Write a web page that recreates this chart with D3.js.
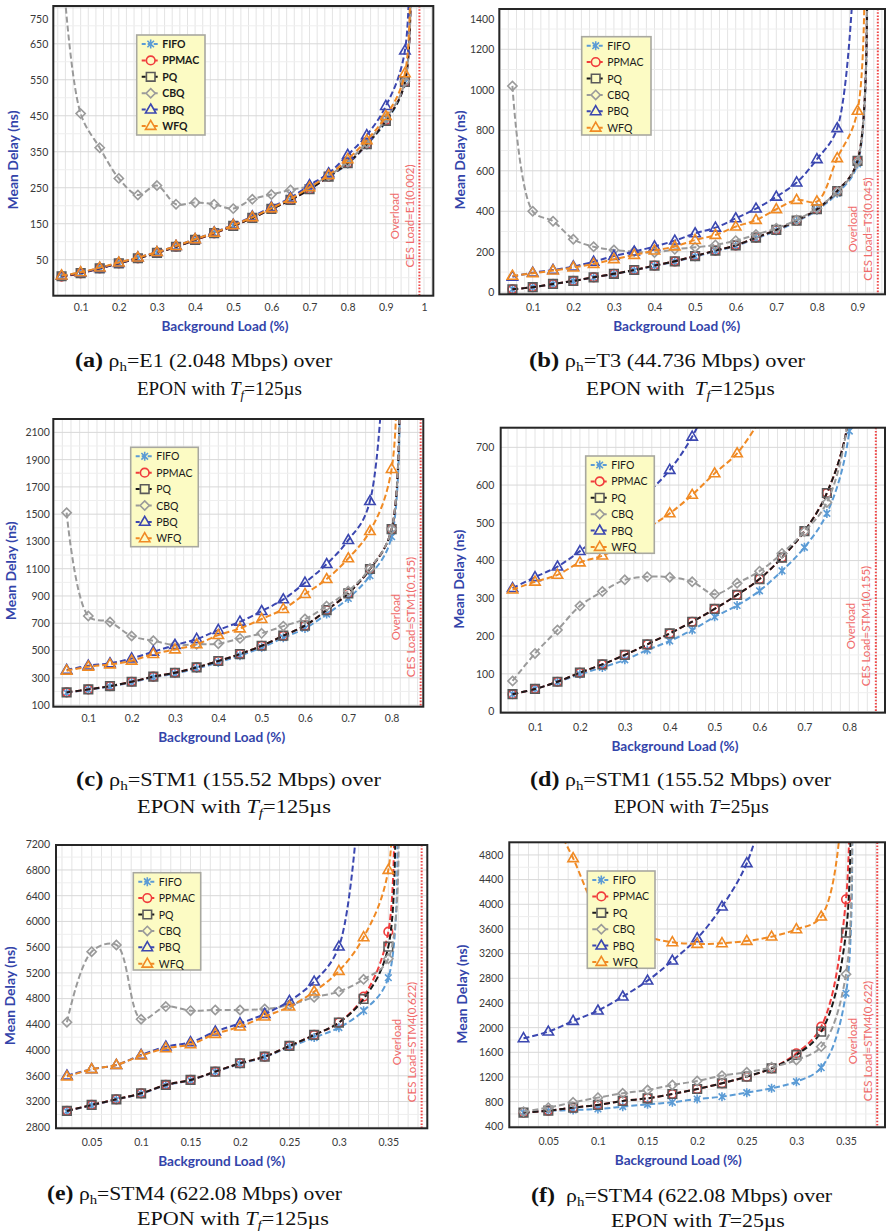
<!DOCTYPE html>
<html>
<head>
<meta charset="utf-8">
<script src="https://cdn.jsdelivr.net/npm/d3@7"></script>
<style>
  html, body { margin: 0; padding: 0; background: #fff; }
  svg { display: block; }
</style>
</head>
<body>
<svg id="fig" width="886" height="1231"></svg>
<script>
// ---------------- data ----------------
// Series order used everywhere: FIFO, PPMAC, PQ, CBQ, PBQ, WFQ
const seriesNames = ["FIFO", "PPMAC", "PQ", "CBQ", "PBQ", "WFQ"];

// (a) E1, Tf = 125 us  (last entry of each list is the overload tail)
const loadA  = [0.05,0.1,0.15,0.2,0.25,0.3,0.35,0.4,0.45,0.5,0.55,0.6,0.65,0.7,0.75,0.8,0.85,0.9,0.95,0.95];
const fifoA  = [3,12,26,40,54,69,86,105,123,144,166,191,216,245,280,316,369,434,542,1500];
const ppmacA = [3,12,26,40,54,69,86,105,123,144,166,191,216,246,281,318,371,438,544,1500];
const pqA    = [4,13,26,40,54,69,86,105,124,144,166,191,216,246,281,318,371,436,544,1500];
const cbqA   = [900,456,361,276,230,256,204,209,204,192,218,231,244,255,283,322,375,442,546,1500];
const pbqA   = [5,14,27,41,56,71,88,107,126,147,170,196,222,257,290,341,396,477,631,1500];
const wfqA   = [6,15,28,42,56,71,88,107,125,146,168,193,219,251,285,329,382,449,568,1500];

// (b) T3, Tf = 125 us
const loadB  = [0.05,0.1,0.15,0.2,0.25,0.3,0.35,0.4,0.45,0.5,0.55,0.6,0.65,0.7,0.75,0.8,0.85,0.9,0.9];
const fifoB  = [15,25,40,55,73,90,108,130,151,176,203,229,266,303,349,405,489,634,3500];
const ppmacB = [15,25,41,56,74,91,110,132,153,179,206,232,270,308,354,410,500,649,3500];
const pqB    = [15,25,41,56,74,91,110,132,153,179,206,232,270,308,354,410,500,649,3500];
const cbqB   = [1019,400,351,262,225,209,201,196,212,222,234,255,285,316,357,415,497,645,3500];
const pbqB   = [77,97,110,127,151,179,201,226,255,291,319,365,413,472,542,657,810,2000,null];
const wfqB   = [81,94,107,122,140,163,184,206,226,258,283,324,357,410,456,448,662,896,3500];

// (c) STM1, Tf = 125 us
const loadC  = [0.05,0.1,0.15,0.2,0.25,0.3,0.35,0.4,0.45,0.5,0.55,0.6,0.65,0.7,0.75,0.8,0.8];
const fifoC  = [190,212,236,267,303,331,368,413,462,522,594,662,767,882,1049,1335,5000];
const ppmacC = [193,215,239,271,308,337,376,423,474,535,609,682,797,919,1098,1391,5000];
const pqC    = [193,215,239,271,308,337,376,423,474,535,609,682,797,919,1098,1391,5000];
const cbqC   = [1511,753,709,606,572,540,545,550,589,626,679,731,826,936,1102,1391,5000];
const pbqC   = [357,389,406,442,491,540,584,650,711,789,875,997,1134,1310,1596,20000,null];
const wfqC   = [352,381,398,425,474,508,545,613,662,731,804,914,1024,1176,1376,1831,5000];

// (d) STM1, T = 25 us
const loadD  = [0.05,0.1,0.15,0.2,0.25,0.3,0.35,0.4,0.45,0.5,0.55,0.6,0.65,0.7,0.75,0.8,0.8];
const fifoD  = [46,60,78,99,117,137,163,187,216,251,281,320,373,435,525,743,1500];
const ppmacD = [46,60,79,103,125,150,178,207,238,272,309,351,408,478,579,790,1500];
const pqD    = [46,60,79,103,125,150,178,207,238,272,309,351,408,478,579,790,1500];
const cbqD   = [81,154,216,280,318,349,357,356,344,311,340,372,419,477,554,800,1500];
const pbqD   = [327,356,384,425,472,523,578,640,728,850,null,null,null,null,null,null,null];
const wfqD   = [323,344,362,395,413,445,485,525,574,631,684,770,null,null,null,null,null];

// (e) STM4, Tf = 125 us
const loadE  = [0.025,0.05,0.075,0.1,0.125,0.15,0.175,0.2,0.225,0.25,0.275,0.3,0.325,0.35,0.35];
const fifoE  = [3050,3140,3230,3320,3450,3530,3660,3785,3890,4050,4194,4349,4613,5126,12000];
const ppmacE = [3054,3147,3235,3328,3458,3536,3665,3795,3898,4064,4235,4427,4831,5841,12000];
const pqE    = [3054,3147,3235,3328,3458,3536,3665,3795,3898,4064,4235,4427,4795,5608,12000];
const cbqE   = [4432,5530,5634,4479,4676,4613,4624,4624,4639,4700,4821,4909,5100,5420,12000];
const pbqE   = [3603,3702,3769,3924,4054,4121,4287,4416,4561,4764,5064,5608,9000,null,null];
const wfqE   = [3588,3702,3769,3914,4028,4090,4251,4365,4520,4676,4909,5230,5753,6800,12000];

// (f) STM4, T = 25 us
const loadF  = [0.025,0.05,0.075,0.1,0.125,0.15,0.175,0.2,0.225,0.25,0.275,0.3,0.325,0.35,0.35];
const fifoF  = [622,649,665,681,719,757,789,843,881,946,1016,1124,1351,2557,10000];
const ppmacF = [622,654,703,746,811,854,924,1005,1097,1205,1340,1584,2016,4081,10000];
const pqF    = [622,654,703,746,811,854,924,1005,1097,1205,1340,1557,1935,3540,10000];
const cbqF   = [638,703,789,865,935,989,1070,1135,1222,1276,1357,1476,1692,2865,10000];
const pbqF   = [1827,1935,2108,2276,2503,2762,3086,3448,3962,4665,6000,null,null,null,null];
const wfqF   = [7000,5600,4746,3900,3620,3470,3384,3357,3367,3405,3475,3594,3800,6500,10000];

// axis tick values
const xTicksA = [0.1,0.2,0.3,0.4,0.5,0.6,0.7,0.8,0.9,1];
const yTicksA = [50,150,250,350,450,550,650,750];
const xTicksB = [0.1,0.2,0.3,0.4,0.5,0.6,0.7,0.8,0.9];
const yTicksB = [0,200,400,600,800,1000,1200,1400];
const xTicksC = [0.1,0.2,0.3,0.4,0.5,0.6,0.7,0.8];
const yTicksC = [100,300,500,700,900,1100,1300,1500,1700,1900,2100];
const xTicksD = [0.1,0.2,0.3,0.4,0.5,0.6,0.7,0.8];
const yTicksD = [0,100,200,300,400,500,600,700];
const xTicksE = [0.05,0.1,0.15,0.2,0.25,0.3,0.35];
const yTicksE = [2800,3200,3600,4000,4400,4800,5200,5600,6000,6400,6800,7200];
const xTicksF = [0.05,0.1,0.15,0.2,0.25,0.3,0.35];
const yTicksF = [400,800,1200,1600,2000,2400,2800,3200,3600,4000,4400,4800];

// overload limit (background load) and its label in each panel
const overloadX   = [0.988, 0.950, 0.867, 0.859, 0.3837, 0.3815];
const cesLabels   = ["CES Load=E1(0.002)", "CES Load=T3(0.045)", "CES Load=STM1(0.155)",
                     "CES Load=STM1(0.155)", "CES Load=STM4(0.622)", "CES Load=STM4(0.622)"];

// ---------------- styles ----------------
const styles = [
  { line: "#5b9bd5", mark: "#5b9bd5", shape: "star" },
  { line: "#f03c3c", mark: "#f03c3c", shape: "circle" },
  { line: "#1a1a1a", mark: "#5a5a5a", shape: "square" },
  { line: "#9a9a9a", mark: "#9a9a9a", shape: "diamond" },
  { line: "#3b47b0", mark: "#3b47b0", shape: "triangle" },
  { line: "#f08a24", mark: "#f08a24", shape: "triangle" }
];
const titleColor = "#3344aa";
const overloadColor = "#f04848";

// ---------------- layout per panel ----------------
const panels = [
  { load: loadA, vals: [fifoA, ppmacA, pqA, cbqA, pbqA, wfqA], box: [53.3, 6, 433.3, 295.7],
    xDom: [0.0283, 1.0244], yDom: [-50, 755], xt: xTicksA, yt: yTicksA, xMinor: 0.02, yMinor: 50,
    xPad: 8, yPad: 5, topShift: 11, xTitle: [225, 326], yTitle: [13, 160], legend: [136.7, 35, 68.3, 100],
    legendBold: true, ovY: 216 },
  { load: loadB, vals: [fifoB, ppmacB, pqB, cbqB, pbqB, wfqB], box: [499.3, 9, 885, 294.3],
    xDom: [0.0177, 0.9677], yDom: [-10, 1399], xt: xTicksB, yt: yTicksB, xMinor: 0.02, yMinor: 100,
    xPad: 9, yPad: 5, topShift: 10.5, xTitle: [676.7, 326], yTitle: [460, 160], legend: [581.7, 36.7, 69.3, 98.3],
    legendBold: false, ovY: 229 },
  { load: loadC, vals: [fifoC, ppmacC, pqC, cbqC, pbqC, wfqC], box: [53.3, 419, 423.3, 706.7],
    xDom: [0.0192, 0.8731], yDom: [88, 2198], xt: xTicksC, yt: yTicksC, xMinor: 0.02, yMinor: 100,
    xPad: 7.5, yPad: 3.5, topShift: 0, xTitle: [221.7, 736.7], yTitle: [10.7, 570.8], legend: [130.7, 447.3, 67.6, 99.4],
    legendBold: false, ovY: 617 },
  { load: loadD, vals: [fifoD, ppmacD, pqD, cbqD, pbqD, wfqD], box: [500.7, 427.7, 885, 712.7],
    xDom: [0.0236, 0.8794], yDom: [-3, 752], xt: xTicksD, yt: yTicksD, xMinor: 0.02, yMinor: 50,
    xPad: 10.5, yPad: 6.4, topShift: 0, xTitle: [675, 745.7], yTitle: [459.3, 579.2], legend: [585.7, 456, 68.6, 97.3],
    legendBold: false, ovY: 626 },
  { load: loadE, vals: [fifoE, ppmacE, pqE, cbqE, pbqE, wfqE], box: [56, 845, 427.3, 1128.3],
    xDom: [0.01395, 0.3894], yDom: [2784, 7188], xt: xTicksE, yt: yTicksE, xMinor: 0.01, yMinor: 200,
    xPad: 10, yPad: 6, topShift: 0, xTitle: [221.7, 1161], yTitle: [10, 995.8], legend: [133.3, 872.7, 67.4, 97.3],
    legendBold: false, ovY: 1042 },
  { load: loadF, vals: [fifoF, ppmacF, pqF, cbqF, pbqF, wfqF], box: [509.3, 842.3, 885, 1127.3],
    xDom: [0.01068, 0.3893], yDom: [384, 5005], xt: xTicksF, yt: yTicksF, xMinor: 0.01, yMinor: 200,
    xPad: 10, yPad: 6, topShift: 0, xTitle: [678.3, 1160], yTitle: [461.7, 994.2], legend: [587.3, 871, 67.7, 97.3],
    legendBold: false, ovY: 1041 }
];

// captions: [x, baseline, width, parts]
const captions = [
  [[75, 367, 258, [["(a)", "b"], [" ρ"], ["h", "sub"], ["=E1 (2.048 Mbps) over"]]],
   [137, 395, 165, [["EPON with "], ["T", "i"], ["f", "isub"], ["=125µs"]]]],
  [[529, 367, 277, [["(b)", "b"], [" ρ"], ["h", "sub"], ["=T3 (44.736 Mbps) over"]]],
   [586, 395, 189, [["EPON with  "], ["T", "i"], ["f", "isub"], ["=125µs"]]]],
  [[76, 786, 306, [["(c)", "b"], [" ρ"], ["h", "sub"], ["=STM1 (155.52 Mbps) over"]]],
   [137, 813, 194, [["EPON with "], ["T", "i"], ["f", "isub"], ["=125µs"]]]],
  [[530, 786, 302, [["(d)", "b"], [" ρ"], ["h", "sub"], ["=STM1 (155.52 Mbps) over"]]],
   [614, 813, 155, [["EPON with "], ["T", "i"], ["=25µs"]]]],
  [[47, 1200, 296, [["(e)", "b"], [" ρ"], ["h", "sub"], ["=STM4 (622.08 Mbps) over"]]],
   [137, 1225, 192, [["EPON with "], ["T", "i"], ["f", "isub"], ["=125µs"]]]],
  [[531, 1202, 302, [["(f)", "b"], ["  ρ"], ["h", "sub"], ["=STM4 (622.08 Mbps) over"]]],
   [611, 1227, 174, [["EPON with "], ["T", "i"], ["=25µs"]]]]
];

// ---------------- drawing ----------------
const svg = d3.select("#fig");
const FONT = "Lato, 'Open Sans', sans-serif";

function markerPath(shape, x, y) {
  switch (shape) {
    case "star": {
      const r = 4.5, d = 3.3;
      return `M${x},${y - r}L${x},${y + r}M${x - d},${y - d}L${x + d},${y + d}M${x - d},${y + d}L${x + d},${y - d}`;
    }
    case "circle":
      return `M${x + 4.3},${y}A4.3,4.3 0 1,1 ${x - 4.3},${y}A4.3,4.3 0 1,1 ${x + 4.3},${y}Z`;
    case "square":
      return `M${x - 4.3},${y - 4.3}h8.6v8.6h-8.6Z`;
    case "diamond":
      return `M${x},${y - 4.6}L${x + 4.6},${y}L${x},${y + 4.6}L${x - 4.6},${y}Z`;
    default:
      return `M${x},${y - 5.6}L${x + 5.2},${y + 3.4}L${x - 5.2},${y + 3.4}Z`;
  }
}

panels.forEach((p, pi) => {
  const [L, T, R, B] = p.box;
  const x = d3.scaleLinear().domain(p.xDom).range([L, R]);
  const y = d3.scaleLinear().domain(p.yDom).range([B, T]);
  const g = svg.append("g");

  const clipId = "clip" + pi;
  svg.append("clipPath").attr("id", clipId)
    .append("rect").attr("x", L).attr("y", T).attr("width", R - L).attr("height", B - T);

  // grid
  const grid = g.append("g");
  const xs = d3.range(Math.ceil(p.xDom[0] / p.xMinor) * p.xMinor, p.xDom[1], p.xMinor);
  grid.selectAll("line.vx").data(xs).join("line")
    .attr("x1", d => x(d)).attr("x2", d => x(d)).attr("y1", T).attr("y2", B)
    .attr("stroke", "#e4e4e4").attr("stroke-width", 1);
  const ys = d3.range(Math.ceil(p.yDom[0] / p.yMinor) * p.yMinor, p.yDom[1], p.yMinor)
    .filter(v => !p.yt.includes(v));
  grid.selectAll("line.hy").data(ys).join("line")
    .attr("x1", L).attr("x2", R).attr("y1", d => y(d)).attr("y2", d => y(d))
    .attr("stroke", "#eeeeee").attr("stroke-width", 1);
  grid.selectAll("line.hm").data(p.yt.filter(v => y(v) > T + 1)).join("line")
    .attr("x1", L).attr("x2", R).attr("y1", d => y(d)).attr("y2", d => y(d))
    .attr("stroke", "#d8d8d8").attr("stroke-width", 1);

  // axes
  const fmt = d => String(+d.toFixed(3));
  const xAxis = g.append("g").attr("transform", `translate(0,${B})`)
    .call(d3.axisBottom(x).tickValues(p.xt).tickFormat(fmt).tickSize(0).tickPadding(p.xPad));
  const yAxis = g.append("g").attr("transform", `translate(${L},0)`)
    .call(d3.axisLeft(y).tickValues(p.yt).tickFormat(fmt).tickSize(0).tickPadding(p.yPad));
  [xAxis, yAxis].forEach(a => {
    a.select(".domain").remove();
    a.selectAll("text").attr("fill", "#3a3a3a").style("font-family", FONT).style("font-size", "10.5px");
  });
  if (p.topShift) {
    const top = d3.max(p.yt);
    yAxis.selectAll(".tick").filter(d => d === top).select("text").attr("y", p.topShift);
  }

  // axis titles
  g.append("text").attr("x", p.xTitle[0]).attr("y", p.xTitle[1])
    .attr("text-anchor", "middle").attr("dominant-baseline", "central")
    .attr("fill", titleColor).style("font-family", FONT).style("font-weight", "bold").style("font-size", "13.5px")
    .attr("textLength", 127).attr("lengthAdjust", "spacingAndGlyphs")
    .text("Background Load (%)");
  g.append("text").attr("transform", `translate(${p.yTitle[0]},${p.yTitle[1]}) rotate(-90)`)
    .attr("text-anchor", "middle").attr("dominant-baseline", "central")
    .attr("fill", titleColor).style("font-family", FONT).style("font-weight", "bold").style("font-size", "13.5px")
    .attr("textLength", 99).attr("lengthAdjust", "spacingAndGlyphs")
    .text("Mean Delay (ns)");

  // overload limit
  const ox = x(overloadX[pi]);
  g.append("line").attr("x1", ox).attr("x2", ox).attr("y1", T).attr("y2", B)
    .attr("stroke", overloadColor).attr("stroke-width", 2).attr("stroke-dasharray", "1.6,1.6");
  g.append("text").attr("transform", `translate(${ox - 25},${p.ovY}) rotate(-90)`)
    .attr("text-anchor", "middle").attr("dominant-baseline", "central")
    .attr("fill", "#f06a6a").style("font-family", FONT).style("font-size", "11.5px").text("Overload");
  g.append("text").attr("transform", `translate(${ox - 10},${p.ovY}) rotate(-90)`)
    .attr("text-anchor", "middle").attr("dominant-baseline", "central")
    .attr("fill", "#f06a6a").style("font-family", FONT).style("font-size", "11.5px").text(cesLabels[pi]);

  // series
  const plot = g.append("g").attr("clip-path", `url(#${clipId})`);
  const lineGen = d3.line()
    .defined(d => d[1] != null)
    .x(d => x(d[0])).y(d => y(d[1]))
    .curve(d3.curveCatmullRom.alpha(0.5));
  p.vals.forEach((vals, si) => {
    const st = styles[si];
    const pts = p.load.map((l, i) => [l, vals[i]]);
    plot.append("path").attr("d", lineGen(pts))
      .attr("fill", "none").attr("stroke", st.line).attr("stroke-width", 2)
      .attr("stroke-dasharray", "6,3");
    const shown = pts.slice(0, -1).filter(d => d[1] != null);
    plot.selectAll(null).data(shown).join("path")
      .attr("d", d => markerPath(st.shape, x(d[0]), y(d[1])))
      .attr("fill", "none").attr("stroke", st.mark).attr("stroke-width", 1.6);
  });

  // frame
  g.append("rect").attr("x", L).attr("y", T).attr("width", R - L).attr("height", B - T)
    .attr("fill", "none").attr("stroke", "#262626").attr("stroke-width", 2);

  // legend
  const [lx, ly, lw, lh] = p.legend;
  const lg = g.append("g");
  lg.append("rect").attr("x", lx).attr("y", ly).attr("width", lw).attr("height", lh)
    .attr("fill", "#fcfbc4").attr("stroke", "#a8a8a0").attr("stroke-width", 1.6);
  seriesNames.forEach((name, si) => {
    const st = styles[si];
    const cy = ly + 9 + si * 16.4;
    lg.append("line").attr("x1", lx + 5).attr("x2", lx + 23).attr("y1", cy).attr("y2", cy)
      .attr("stroke", st.line).attr("stroke-width", 2).attr("stroke-dasharray", "4,2");
    lg.append("path").attr("d", markerPath(st.shape, lx + 14, cy))
      .attr("fill", "#fcfbc4").attr("stroke", st.mark).attr("stroke-width", 1.6);
    lg.append("text").attr("x", lx + 25.5).attr("y", cy).attr("dominant-baseline", "central")
      .attr("fill", "#1a1a1a").style("font-family", FONT).style("font-size", "10.5px")
      .style("font-weight", p.legendBold ? "bold" : "normal").text(name);
  });
});

// captions
captions.forEach(pair => {
  pair.forEach(([cx, cy, w, parts]) => {
    const t = svg.append("text").attr("x", 0).attr("y", 0)
      .style("font-family", "'Liberation Serif', 'Times New Roman', serif").style("font-size", "19px")
      .attr("fill", "#111").style("white-space", "pre");
    let lowered = false;
    parts.forEach(([s, kind]) => {
      const ts = t.append("tspan").text(s);
      const isSub = kind === "sub" || kind === "isub";
      if (kind === "b") ts.style("font-weight", "bold").style("font-size", "21px");
      if (kind === "i" || kind === "isub") ts.style("font-style", "italic");
      if (isSub) { ts.style("font-size", "13px"); if (!lowered) { ts.attr("dy", 4); lowered = true; } }
      else if (lowered) { ts.attr("dy", -4); lowered = false; }
    });
    const nw = t.node().getBBox().width;
    t.attr("transform", `translate(${cx},${cy}) scale(${w / nw},1)`);
  });
});
</script>
</body>
</html>
